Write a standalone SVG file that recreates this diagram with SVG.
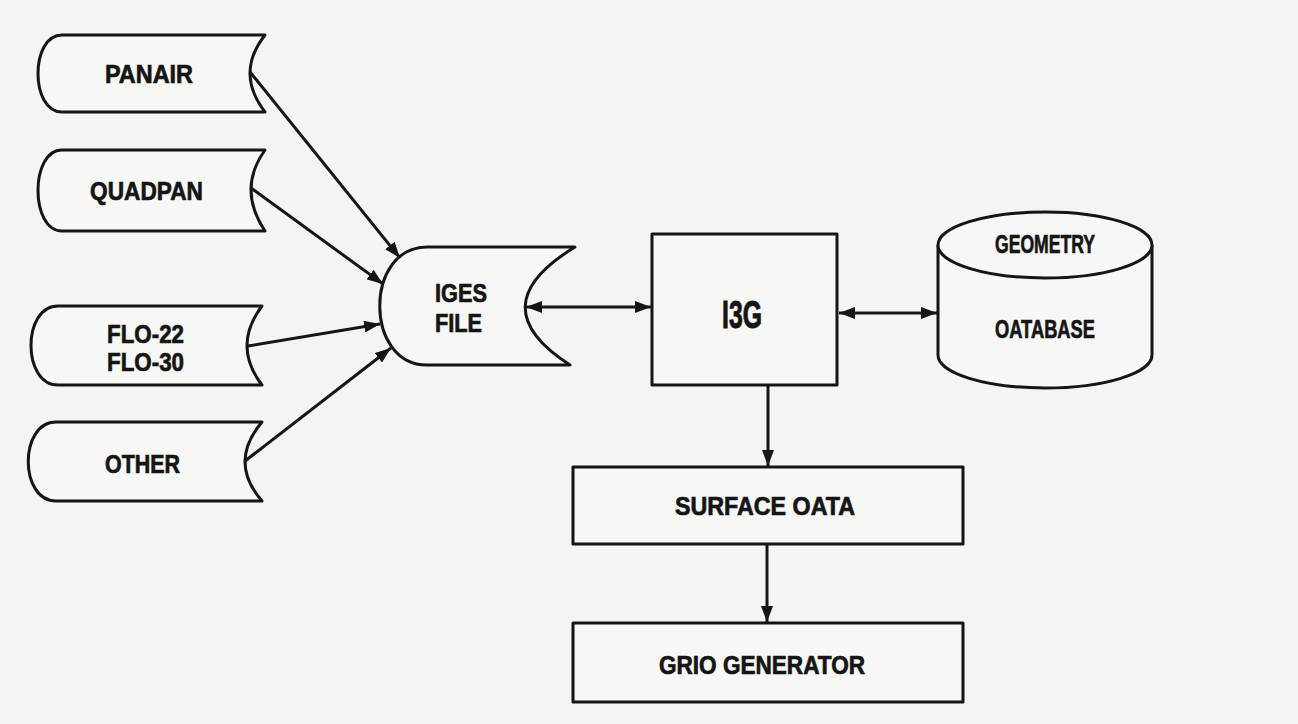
<svg xmlns="http://www.w3.org/2000/svg" width="1298" height="724" viewBox="0 0 1298 724">
<style>
.s{fill:#f7f7f5;stroke:#151515;stroke-width:3;stroke-linejoin:round}
.c{fill:none;stroke:#151515;stroke-width:3}
.t{font-family:"Liberation Sans",Arial,sans-serif;font-weight:bold;font-size:26px;fill:#151515;stroke:#151515;stroke-width:0.7}
.big{font-size:39px;stroke-width:1}
</style>
<defs>
<marker id="a" viewBox="0 0 16 12" refX="16" refY="6" markerWidth="16" markerHeight="12" markerUnits="userSpaceOnUse" orient="auto-start-reverse">
<path d="M0,0 L16,6 L0,12 z" fill="#151515"/>
</marker>
</defs>
<rect width="1298" height="724" fill="#f4f4f2"/>
<g id="panair">
<path class="s" d="M62,35 L265,35 Q235,73 265,112 L62,112 C30,112 30,35 62,35 Z"/>
<text class="t" x="105" y="83" textLength="88" lengthAdjust="spacingAndGlyphs">PANAIR</text>
</g>
<g id="quadpan">
<path class="s" d="M62,150 L265,150 Q237,189 265,231 L62,231 C30,231 30,150 62,150 Z"/>
<text class="t" x="90" y="200" textLength="113" lengthAdjust="spacingAndGlyphs">QUADPAN</text>
</g>
<g id="flo">
<path class="s" d="M58,306 L262,306 Q232,346 262,385 L58,385 C22,385 22,306 58,306 Z"/>
<text class="t" x="107" y="343" textLength="77" lengthAdjust="spacingAndGlyphs">FLO-22</text>
<text class="t" x="107" y="371" textLength="77" lengthAdjust="spacingAndGlyphs">FLO-30</text>
</g>
<g id="other">
<path class="s" d="M56,422 L262,422 Q228,462 262,501 L56,501 C19,501 19,422 56,422 Z"/>
<text class="t" x="105" y="473" textLength="75" lengthAdjust="spacingAndGlyphs">OTHER</text>
</g>
<g id="iges">
<path class="s" d="M427,247 L575,247 Q478,306 570,365 L427,365 C364,365 364,247 427,247 Z"/>
<text class="t" x="435" y="302" textLength="52" lengthAdjust="spacingAndGlyphs">IGES</text>
<text class="t" x="435" y="332" textLength="47" lengthAdjust="spacingAndGlyphs">FILE</text>
</g>
<g id="i3g">
<rect class="s" x="652" y="234" width="185" height="151"/>
<text class="t big" x="722" y="328" textLength="40" lengthAdjust="spacingAndGlyphs">I3G</text>
</g>
<g id="database">
<path class="s" d="M938,245 L938,355 A107,33 0 0 0 1152,355 L1152,245"/>
<ellipse class="s" cx="1045" cy="245" rx="107" ry="33"/>
<text class="t" x="995" y="253" textLength="100" lengthAdjust="spacingAndGlyphs">GEOMETRY</text>
<text class="t" x="995" y="338" textLength="100" lengthAdjust="spacingAndGlyphs">OATABASE</text>
</g>
<g id="surface">
<rect class="s" x="573" y="467" width="390" height="77"/>
<text class="t" x="675" y="515" textLength="180" lengthAdjust="spacingAndGlyphs">SURFACE OATA</text>
</g>
<g id="grid">
<rect class="s" x="573" y="623" width="390" height="79"/>
<text class="t" x="659" y="674" textLength="206" lengthAdjust="spacingAndGlyphs">GRIO GENERATOR</text>
</g>
<g id="connectors">
<line class="c" x1="250" y1="72" x2="400" y2="258" marker-end="url(#a)"/>
<line class="c" x1="251" y1="188" x2="383" y2="284" marker-end="url(#a)"/>
<line class="c" x1="248" y1="346" x2="380" y2="324" marker-end="url(#a)"/>
<line class="c" x1="245" y1="461" x2="391" y2="348" marker-end="url(#a)"/>
<line class="c" x1="526" y1="307" x2="651" y2="307" marker-start="url(#a)" marker-end="url(#a)"/>
<line class="c" x1="839" y1="313" x2="937" y2="313" marker-start="url(#a)" marker-end="url(#a)"/>
<line class="c" x1="768" y1="386" x2="768" y2="466" marker-end="url(#a)"/>
<line class="c" x1="767" y1="545" x2="767" y2="622" marker-end="url(#a)"/>
</g>
</svg>
